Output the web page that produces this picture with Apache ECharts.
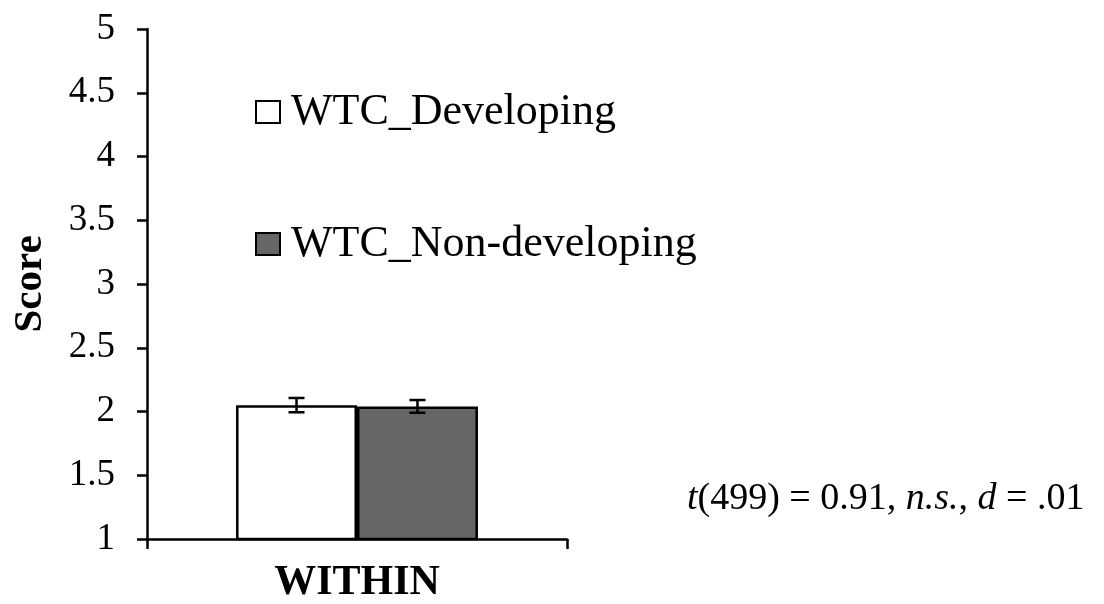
<!DOCTYPE html>
<html>
<head>
<meta charset="utf-8">
<script src="https://cdn.jsdelivr.net/npm/echarts@6/dist/echarts.min.js"></script>
<style>
html,body{margin:0;padding:0;background:#fff;}
#main{width:1104px;height:604px;}
</style>
</head>
<body>
<div id="main"></div>
<script>
// ---- data ----
const categories = ['WITHIN'];
const seriesNames = ['WTC_Developing', 'WTC_Non-developing'];
const developing = [2.05];
const nonDeveloping = [2.04];
const developingErr = [0.056];
const nonDevelopingErr = [0.05];
const yTicks = { min: 1, max: 5, interval: 0.5 };
const annotation = '{i|t}(499) = 0.91, {i|n.s.}, {i|d} = .01';

const SERIF = '"Liberation Serif", "Times New Roman", serif';
const CAT_GAP = 0.424;

function errSeries(name, vals, errs, sign) {
  return {
    type: 'custom',
    name: name,
    z: 10,
    encode: { x: 0, y: 1 },
    data: vals.map((v, i) => [i, v, errs[i]]),
    renderItem: function (params, api) {
      const ci = api.value(0), v = api.value(1), e = api.value(2);
      const band = api.size([1, 0])[0];
      const bw = band * (1 - CAT_GAP) / 2;
      const c = api.coord([ci, v]);
      const x = c[0] + sign * bw / 2;
      const top = api.coord([ci, v + e])[1];
      const bot = api.coord([ci, v - e])[1];
      const hw = 8;
      const st = { stroke: '#000', lineWidth: 2.5 };
      return {
        type: 'group',
        children: [
          { type: 'line', shape: { x1: x, y1: top, x2: x, y2: bot }, style: st },
          { type: 'line', shape: { x1: x - hw, y1: top, x2: x + hw, y2: top }, style: st },
          { type: 'line', shape: { x1: x - hw, y1: bot, x2: x + hw, y2: bot }, style: st }
        ]
      };
    }
  };
}

const chart = echarts.init(document.getElementById('main'), null, { renderer: 'canvas' });
chart.setOption({
  animation: false,
  backgroundColor: '#fff',
  textStyle: { fontFamily: SERIF, color: '#000' },
  grid: { left: 147, right: 537, top: 29, bottom: 59, containLabel: false },
  legend: {
    data: seriesNames,
    orient: 'vertical',
    left: 250,
    top: 82,
    itemGap: 82,
    itemWidth: 24,
    itemHeight: 22,
    selectedMode: false,
    icon: 'rect',
    textStyle: { fontFamily: SERIF, fontSize: 44, color: '#000', lineHeight: 50, padding: [0, 0, 0, 6] }
  },
  title: {
    text: annotation,
    left: 682,
    top: 475,
    textStyle: {
      fontFamily: SERIF, fontSize: 38, fontWeight: 'normal', color: '#000',
      rich: { i: { fontFamily: SERIF, fontSize: 38, fontStyle: 'italic', color: '#000' } }
    }
  },
  xAxis: {
    type: 'category',
    data: categories,
    axisLine: { lineStyle: { color: '#000', width: 2.5 } },
    axisTick: { show: true, length: 10, lineStyle: { color: '#000', width: 2.5 } },
    axisLabel: { fontFamily: SERIF, fontSize: 42, fontWeight: 'bold', color: '#000', margin: 23 }
  },
  yAxis: {
    type: 'value',
    min: yTicks.min,
    max: yTicks.max,
    interval: yTicks.interval,
    name: 'Score',
    nameLocation: 'middle',
    nameRotate: 90,
    nameGap: 96,
    nameTextStyle: { fontFamily: SERIF, fontSize: 41, fontWeight: 'bold', color: '#000' },
    splitLine: { show: false },
    axisLine: { show: true, lineStyle: { color: '#000', width: 2.5 } },
    axisTick: { show: true, length: 10, lineStyle: { color: '#000', width: 2.5 } },
    axisLabel: { fontFamily: SERIF, fontSize: 37, color: '#000', margin: 32 }
  },
  series: [
    {
      type: 'bar', name: seriesNames[0], data: developing,
      barGap: '0%', barCategoryGap: (CAT_GAP * 100) + '%',
      itemStyle: { color: '#ffffff', borderColor: '#000', borderWidth: 2.5 }
    },
    {
      type: 'bar', name: seriesNames[1], data: nonDeveloping,
      barGap: '0%', barCategoryGap: (CAT_GAP * 100) + '%',
      itemStyle: { color: '#666666', borderColor: '#000', borderWidth: 2.5 }
    },
    errSeries('err_dev', developing, developingErr, -1),
    errSeries('err_non', nonDeveloping, nonDevelopingErr, 1)
  ]
});
</script>
</body>
</html>
